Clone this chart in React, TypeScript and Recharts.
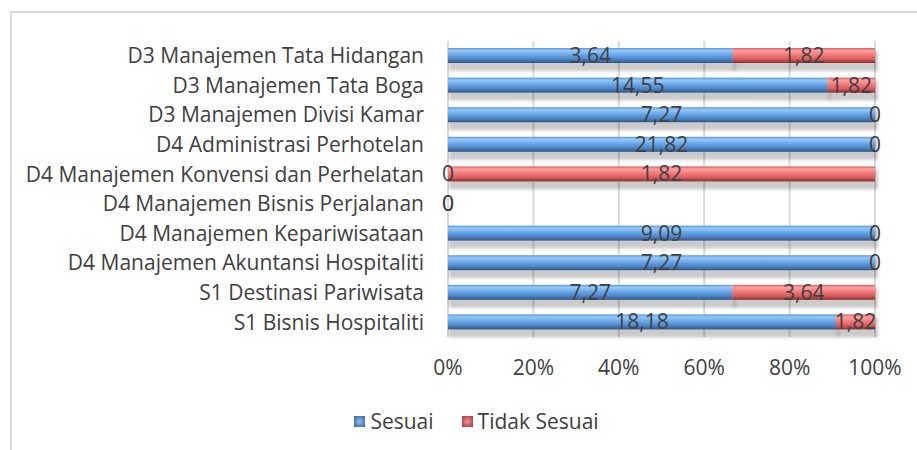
import React from 'react';
import { BarChart, Bar, XAxis, YAxis, CartesianGrid, LabelList, Legend } from 'recharts';

const categories = [
  'D3 Manajemen Tata Hidangan',
  'D3 Manajemen Tata Boga',
  'D3 Manajemen Divisi Kamar',
  'D4 Administrasi Perhotelan',
  'D4 Manajemen Konvensi dan Perhelatan',
  'D4 Manajemen Bisnis Perjalanan',
  'D4 Manajemen Kepariwisataan',
  'D4 Manajemen Akuntansi Hospitaliti',
  'S1 Destinasi Pariwisata',
  'S1 Bisnis Hospitaliti',
];
const sesuai = [3.64, 14.55, 7.27, 21.82, 0, 0, 9.09, 7.27, 7.27, 18.18];
const tidakSesuai = [1.82, 1.82, 0, 0, 1.82, 0, 0, 0, 3.64, 1.82];
const xTicks = [0, 0.2, 0.4, 0.6, 0.8, 1];
const seriesNames = ['Sesuai', 'Tidak Sesuai'];

const data = categories.map((name, i) => ({ name, sesuai: sesuai[i], tidak: tidakSesuai[i] }));

const FONT = '"Open Sans", sans-serif';
const TEXT = '#404040';
const FS = 21;

const fmt = (v: any) => String(v).replace('.', ',');

const makeShape = (gradId: string) => (props: any) => {
  const { x, y, width, height } = props;
  if (!width || width <= 0) return <g />;
  return (
    <g>
      <rect x={x + 1} y={y + 3} width={width + 2} height={height + 5} fill="#000" opacity={0.2} filter="url(#blurShadow)" />
      <rect x={x} y={y} width={width} height={height} fill={`url(#${gradId})`} />
    </g>
  );
};

const LegendContent = () => (
  <div style={{ display: 'flex', justifyContent: 'center', alignItems: 'center', fontFamily: FONT, fontSize: FS, color: TEXT }}>
    <span style={{ display: 'inline-block', width: 11, height: 11, background: 'radial-gradient(#8cc0f0, #2f5f9a)', marginRight: 5 }} />
    <span style={{ marginRight: 28 }}>{seriesNames[0]}</span>
    <span style={{ display: 'inline-block', width: 11, height: 11, background: 'radial-gradient(#f89090, #a03030)', marginRight: 5 }} />
    <span>{seriesNames[1]}</span>
  </div>
);

export default function App() {
  return (
    <div style={{ position: 'absolute', left: 0, top: 0, width: 917, height: 450, background: '#fff', overflow: 'hidden' }}>
      <div style={{ position: 'absolute', left: 10, top: 11, width: 920, height: 460, borderLeft: '2px solid #d9d9d9', borderTop: '2px solid #d9d9d9' }} />
      <BarChart
        width={917}
        height={450}
        data={data}
        layout="vertical"
        stackOffset="expand"
        margin={{ top: 41, right: 42, bottom: 53, left: 0 }}
        barSize={15}
        style={{ position: 'absolute', left: 0, top: 0 }}
      >
        <defs>
          <linearGradient id="gBlue" x1="0" y1="0" x2="0" y2="1">
            <stop offset="0%" stopColor="#5d98d8" />
            <stop offset="18%" stopColor="#93c8f8" />
            <stop offset="45%" stopColor="#6ba7e8" />
            <stop offset="75%" stopColor="#4e84c4" />
            <stop offset="100%" stopColor="#2c5688" />
          </linearGradient>
          <linearGradient id="gRed" x1="0" y1="0" x2="0" y2="1">
            <stop offset="0%" stopColor="#d86060" />
            <stop offset="18%" stopColor="#ffa0a0" />
            <stop offset="45%" stopColor="#f27c7c" />
            <stop offset="75%" stopColor="#d65c5c" />
            <stop offset="100%" stopColor="#8c2c2c" />
          </linearGradient>
          <filter id="blurShadow" x="-10%" y="-50%" width="120%" height="200%">
            <feGaussianBlur stdDeviation="1.5" />
          </filter>
        </defs>
        <CartesianGrid horizontal={false} vertical={true} stroke="#d9d9d9" strokeWidth={2} />
        <XAxis
          type="number"
          domain={[0, 1]}
          ticks={xTicks}
          tickFormatter={(v: number) => `${Math.round(v * 100)}%`}
          axisLine={false}
          tickLine={false}
          tickSize={0}
          tickMargin={23}
          height={60}
          tick={{ fill: TEXT, fontSize: FS, fontFamily: FONT }}
        />
        <YAxis
          type="category"
          dataKey="name"
          width={448}
          axisLine={false}
          tickLine={false}
          tickSize={0}
          tickMargin={24}
          interval={0}
          tick={{ fill: TEXT, fontSize: FS, fontFamily: FONT }}
        />
        <Bar dataKey="sesuai" name={seriesNames[0]} stackId="a" isAnimationActive={false} shape={makeShape('gBlue')}>
          <LabelList dataKey="sesuai" position="center" formatter={fmt} fill={TEXT} fontSize={FS} fontFamily={FONT} />
        </Bar>
        <Bar dataKey="tidak" name={seriesNames[1]} stackId="a" isAnimationActive={false} shape={makeShape('gRed')}>
          <LabelList dataKey="tidak" position="center" formatter={fmt} fill={TEXT} fontSize={FS} fontFamily={FONT} />
        </Bar>
        <Legend layout="horizontal" verticalAlign="middle" align="center" content={LegendContent} wrapperStyle={{ top: 407, left: 18, width: 917 }} />
      </BarChart>
    </div>
  );
}
